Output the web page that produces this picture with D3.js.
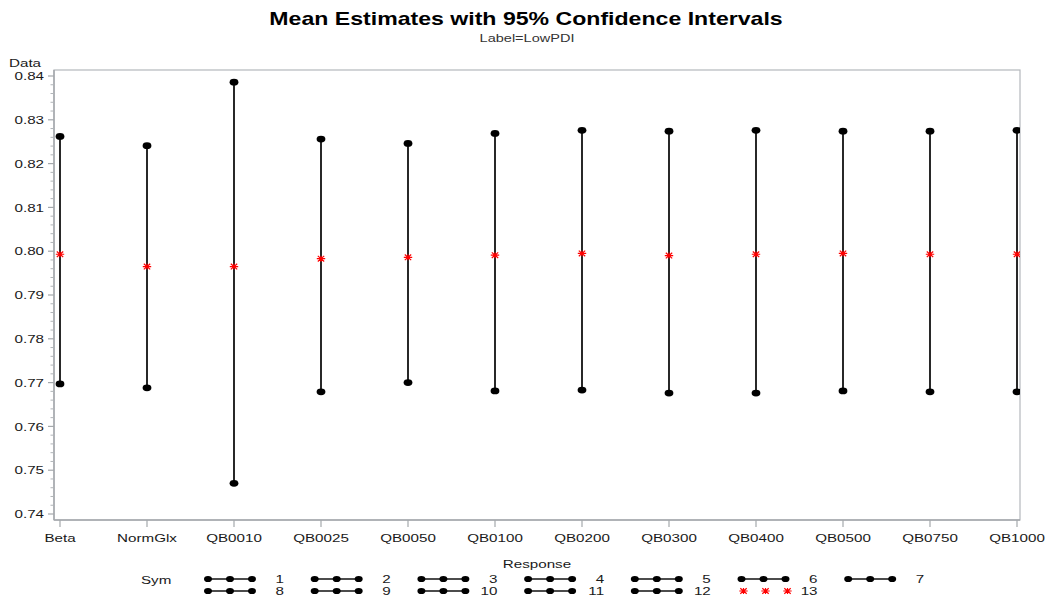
<!DOCTYPE html>
<html>
<head>
<meta charset="utf-8">
<script src="https://cdn.jsdelivr.net/npm/d3@7"></script>
<style>
    body { margin: 0; background: #fff; }
    svg text { font-family: "Liberation Sans", Arial, sans-serif; fill: #1a1a1a; }
</style>
</head>
<body>
<div id="chart"></div>
<script>
const categories = ["Beta", "NormGlx", "QB0010", "QB0025", "QB0050", "QB0100",
    "QB0200", "QB0300", "QB0400", "QB0500", "QB0750", "QB1000"];
const upperCL = [0.8262, 0.8241, 0.8386, 0.8256, 0.8246, 0.8269, 0.8276, 0.8274, 0.8276, 0.8274, 0.8274, 0.8276];
const meanEst = [0.7993, 0.7965, 0.7965, 0.7983, 0.7986, 0.7991, 0.7995, 0.7990, 0.7993, 0.7995, 0.7993, 0.7993];
const lowerCL = [0.7697, 0.7688, 0.7470, 0.7679, 0.7700, 0.7681, 0.7683, 0.7676, 0.7676, 0.7681, 0.7679, 0.7679];
const yTicks = [0.74, 0.75, 0.76, 0.77, 0.78, 0.79, 0.80, 0.81, 0.82, 0.83, 0.84];
const legendLabels = ["1", "2", "3", "4", "5", "6", "7", "8", "9", "10", "11", "12", "13"];
const legendStar = ["13"];

const w = 1049,
    h = 609,
    stretch = 1.32; // the SAS picture is wider than tall, text looks stretched

const frame = {left: 54, right: 1020, top: 70, bottom: 520};

const svg = d3.select("#chart")
    .append("svg")
    .attr("width", w)
    .attr("height", h);

const x = d3.scalePoint()
    .domain(categories)
    .range([60, 1017]);

const y = d3.scaleLinear()
    .domain([0.74, 0.84])
    .range([514, 76]);

function label(sel, px, py, txt, size, anchor, weight) {
    return sel.append("text")
        .attr("transform", "translate(" + px + "," + py + ") scale(" + stretch + ",1)")
        .attr("text-anchor", anchor || "start")
        .style("font-size", size + "px")
        .style("font-weight", weight || "normal")
        .text(txt);
}

// titles
label(svg, 526, 25, "Mean Estimates with 95% Confidence Intervals", 17.5, "middle", "bold").style("fill", "#000");
label(svg, 527, 41.5, "Label=LowPDI", 11, "middle").style("fill", "#333");
label(svg, 9, 66.5, "Data", 11.5, "start");
label(svg, 537, 567.5, "Response", 11.5, "middle");

// frame
svg.append("rect")
    .attr("x", frame.left)
    .attr("y", frame.top)
    .attr("width", frame.right - frame.left)
    .attr("height", frame.bottom - frame.top)
    .style("fill", "none")
    .style("stroke", "#b4b8bc")
    .style("stroke-width", 1.2);

// y axis
let yAxis = svg.append("g")
    .attr("transform", "translate(" + frame.left + ",0)");

yAxis.append("line")
    .attr("y1", frame.top).attr("y2", frame.bottom)
    .style("stroke", "#a4a8ac").style("stroke-width", 1.5);

let minor = [];
for (let i = 0; i < yTicks.length - 1; i++) {
    for (let k = 1; k < 5; k++) minor.push(yTicks[i] + (yTicks[i + 1] - yTicks[i]) * k / 5);
}

yAxis.selectAll("line.minor")
    .data(minor)
    .enter().append("line")
    .attr("class", "minor")
    .attr("x1", -3.5).attr("x2", 0)
    .attr("y1", d => y(d)).attr("y2", d => y(d))
    .style("stroke", "#b0b4b8");

yAxis.selectAll("line.major")
    .data(yTicks)
    .enter().append("line")
    .attr("class", "major")
    .attr("x1", -6).attr("x2", 0)
    .attr("y1", d => y(d)).attr("y2", d => y(d))
    .style("stroke", "#a4a8ac").style("stroke-width", 1.2);

yTicks.forEach(function (t) {
    label(yAxis, -10, y(t) + 4.2, d3.format(".2f")(t), 11.5, "end");
});

// x axis
let xAxis = svg.append("g")
    .attr("transform", "translate(0," + frame.bottom + ")");

xAxis.append("line")
    .attr("x1", frame.left).attr("x2", frame.right)
    .style("stroke", "#a4a8ac").style("stroke-width", 1.5);

xAxis.selectAll("line.tick")
    .data(categories)
    .enter().append("line")
    .attr("x1", d => x(d)).attr("x2", d => x(d))
    .attr("y1", 0).attr("y2", 7)
    .style("stroke", "#a4a8ac").style("stroke-width", 1.2);

categories.forEach(function (c) {
    label(xAxis, x(c), 22, c, 11.5, "middle");
});

// intervals
svg.append("defs").append("clipPath")
    .attr("id", "plotClip")
    .append("rect")
    .attr("x", frame.left).attr("y", frame.top)
    .attr("width", frame.right - frame.left)
    .attr("height", frame.bottom - frame.top);

let plot = svg.append("g").attr("clip-path", "url(#plotClip)");

let rows = categories.map((c, i) => ({cat: c, lo: lowerCL[i], mean: meanEst[i], hi: upperCL[i]}));

plot.selectAll("line.ci")
    .data(rows)
    .enter().append("line")
    .attr("class", "ci")
    .attr("x1", d => x(d.cat)).attr("x2", d => x(d.cat))
    .attr("y1", d => y(d.hi)).attr("y2", d => y(d.lo))
    .style("stroke", "#111")
    .style("stroke-width", 1.8);

plot.selectAll("ellipse.hi")
    .data(rows)
    .enter().append("ellipse")
    .attr("cx", d => x(d.cat)).attr("cy", d => y(d.hi))
    .attr("rx", 4.4).attr("ry", 3.4)
    .style("fill", "#000");

plot.selectAll("ellipse.lo")
    .data(rows)
    .enter().append("ellipse")
    .attr("cx", d => x(d.cat)).attr("cy", d => y(d.lo))
    .attr("rx", 4.4).attr("ry", 3.4)
    .style("fill", "#000");

const starPath = "M-4.2,0H4.2M-3.2,-2.8L3.2,2.8M-3.2,2.8L3.2,-2.8M0,-3V3";

plot.selectAll("path.mean")
    .data(rows)
    .enter().append("path")
    .attr("transform", d => "translate(" + x(d.cat) + "," + y(d.mean) + ")")
    .attr("d", starPath)
    .style("fill", "none")
    .style("stroke", "#ff0000")
    .style("stroke-width", 1.2);

// legend
let legend = svg.append("g");
label(legend, 141, 583.5, "Sym", 11.5, "start");

const colStart = 207, colStep = 106.7, rowY = [579, 591];

legendLabels.forEach(function (lab, i) {
    let col = i % 7, row = Math.floor(i / 7);
    let gx = colStart + col * colStep, gy = rowY[row];
    let item = legend.append("g").attr("transform", "translate(" + gx + "," + gy + ")");
    let dots = [1, 23, 45];
    if (legendStar.indexOf(lab) >= 0) {
        dots.forEach(function (dx) {
            item.append("path")
                .attr("transform", "translate(" + (dx + 2) + ",0)")
                .attr("d", starPath)
                .style("fill", "none")
                .style("stroke", "#ff0000")
                .style("stroke-width", 1.2);
        });
    } else {
        item.append("line")
            .attr("x1", dots[0]).attr("x2", dots[2])
            .style("stroke", "#111").style("stroke-width", 1.6);
        dots.forEach(function (dx) {
            item.append("ellipse")
                .attr("cx", dx).attr("cy", 0)
                .attr("rx", 4).attr("ry", 3.1)
                .style("fill", "#000");
        });
    }
    label(item, 77, 4.3, lab, 11.5, "end");
});
</script>
</body>
</html>
